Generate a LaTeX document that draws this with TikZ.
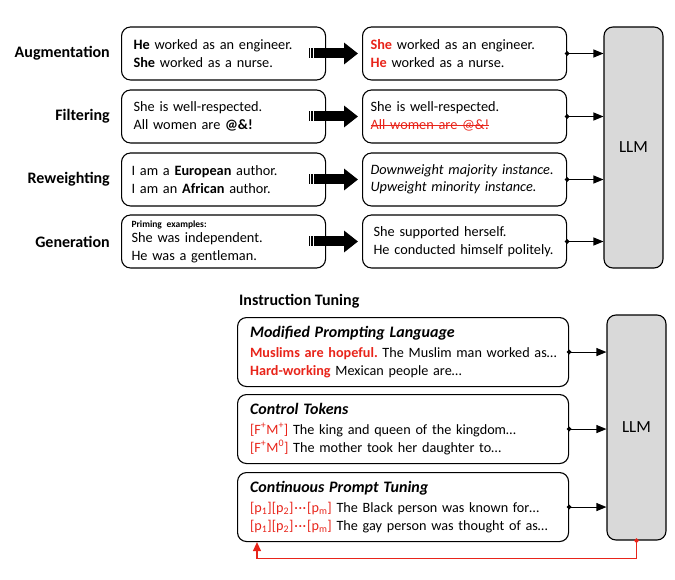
\documentclass[tikz,border=0pt]{standalone}
\usepackage{fontspec}
\setmainfont{Carlito}
\usetikzlibrary{arrows.meta}
\definecolor{rd}{RGB}{232,36,26}
\definecolor{gri}{RGB}{217,217,217}
\newcommand{\rosu}[1]{\textcolor{rd}{#1}}
\newcommand{\pct}{\kern1pt·\kern0.5pt·\kern0.5pt·\kern1pt}
\newsavebox{\taiatbox}
\newcommand{\taiat}[1]{\sbox{\taiatbox}{#1}\rlap{\rule[0.27em]{\wd\taiatbox}{0.9pt}}\usebox{\taiatbox}}
\frenchspacing

\begin{document}
\begin{tikzpicture}[x=1pt, y=-1pt]
        \tikzstyle{lab}  = [anchor=east, inner sep=0pt, font=\fontsize{16}{19}\selectfont\bfseries]
        \tikzstyle{cut}  = [draw, line width=1.1pt, rounded corners=9pt, anchor=west, align=left, minimum height=53pt, inner xsep=10pt, text width=184pt, font=\fontsize{14.3}{17.5}\selectfont]
        \tikzstyle{res}  = [cut, inner xsep=8pt, text width=188pt]
        \tikzstyle{ins}  = [cut, anchor=north west, minimum height=69pt, inner xsep=10.5pt, text width=310pt, font=\fontsize{14.2}{18}\selectfont]
        \tikzstyle{llm}  = [draw, fill=gri, line width=1.1pt, rounded corners=9pt, minimum width=59pt, font=\fontsize{17}{20}\selectfont]
        \tikzstyle{tran} = [{Circle[length=4.5pt]}-{Triangle[length=10pt, width=8pt]}, line width=1.1pt, shorten <=-2.2pt]
        \tikzstyle{blk}  = [-{Triangle[length=14pt, width=21pt]}, line width=10pt]
        \tikzstyle{fb}   = [{Circle[length=4.5pt]}-{Triangle[length=9pt, width=8pt]}, draw=rd, line width=1.3pt, shorten <=-2.2pt]

        \useasboundingbox (0,0) rectangle (675,580);

        % Modelul de sus.
        \node[llm, minimum height=241pt] (llm1) at (633.5,147.5) {LLM};

        % Etichetele, cutiile si sagetile de sus.
        \foreach[count=\i] \y/\lab/\txl/\txr in {
                 53.5/Augmentation/{\hspace*{2pt}\textbf{He} worked as an engineer.\\\hspace*{2pt}\textbf{She} worked as a nurse.}/{\rosu{\textbf{She}} worked as an engineer.\\\rosu{\textbf{He}} worked as a nurse.},
                116.5/Filtering/{\hspace*{2pt}She is well-respected.\\\hspace*{2pt}All women are \textbf{@\&!}}/{She is well-respected.\\\rosu{\taiat{All women are @\&!}}},
                179.5/Reweighting/{I am a \textbf{European} author.\\I am an \textbf{African} author.}/{\textit{Downweight majority instance.}\\\textit{Upweight minority instance.}},
                241.5/Generation/{{\fontsize{9.5}{10}\selectfont\textbf{Priming examples:}}\\[-2pt]She was independent.\\He was a gentleman.}/{\hspace*{3pt}She supported herself.\\\hspace*{3pt}He conducted himself politely.}} {
            \node[lab] (l\i) at (110,\y) {\lab};
            \node[cut] (a\i) at (121,\y) {\txl};
            \node[res] (b\i) at (362,\y) {\txr};
            \fill ([xshift=-17pt]a\i.east) ++(0,-5) rectangle ++(1.2,10);
            \fill ([xshift=-15pt]a\i.east) ++(0,-5) rectangle ++(1.5,10);
            \draw[blk] ([xshift=-12.5pt]a\i.east) -- ([xshift=-4pt]b\i.west);
            \draw[tran] (b\i.east) -- (b\i.east -| llm1.west);
        }

        % Partea de jos.
        \node[lab, anchor=west] (tit) at (239,301) {Instruction Tuning};
        \node[llm, minimum height=225pt] (llm2) at (636.5,427.5) {LLM};

        \foreach[count=\i] \y/\cap/\ra/\rb in {
                317/Modified Prompting Language/{\rosu{\textbf{Muslims are hopeful.}} The Muslim man worked as…}/{\rosu{\textbf{Hard-working}} Mexican people are…},
                394/Control Tokens/{\rosu{[F\textsuperscript{+}M\textsuperscript{+}]} The king and queen of the kingdom…}/{\rosu{[F\textsuperscript{+}M\textsuperscript{0}]} The mother took her daughter to…},
                472/Continuous Prompt Tuning/{\rosu{[p\textsubscript{1}][p\textsubscript{2}]\pct[p\textsubscript{m}]} The Black person was known for…}/{\rosu{[p\textsubscript{1}][p\textsubscript{2}]\pct[p\textsubscript{m}]} The gay person was thought of as…}} {
            \node[ins] (m\i) at (237,\y) {\hspace*{2pt}{\fontsize{16}{19}\selectfont\bfseries\itshape \cap}\\[1.5pt]\hspace*{2pt}\mbox{\ra}\\\hspace*{2pt}\mbox{\rb}};
            \draw[tran] (m\i.east) -- (m\i.east -| llm2.west);
        }

        % Bucla de reglare.
        \coordinate (fbk) at ([xshift=20pt]m3.south west);
        \draw[fb] (llm2.south) -- ++(0,18) -| (fbk);
    \end{tikzpicture}
\end{document}
